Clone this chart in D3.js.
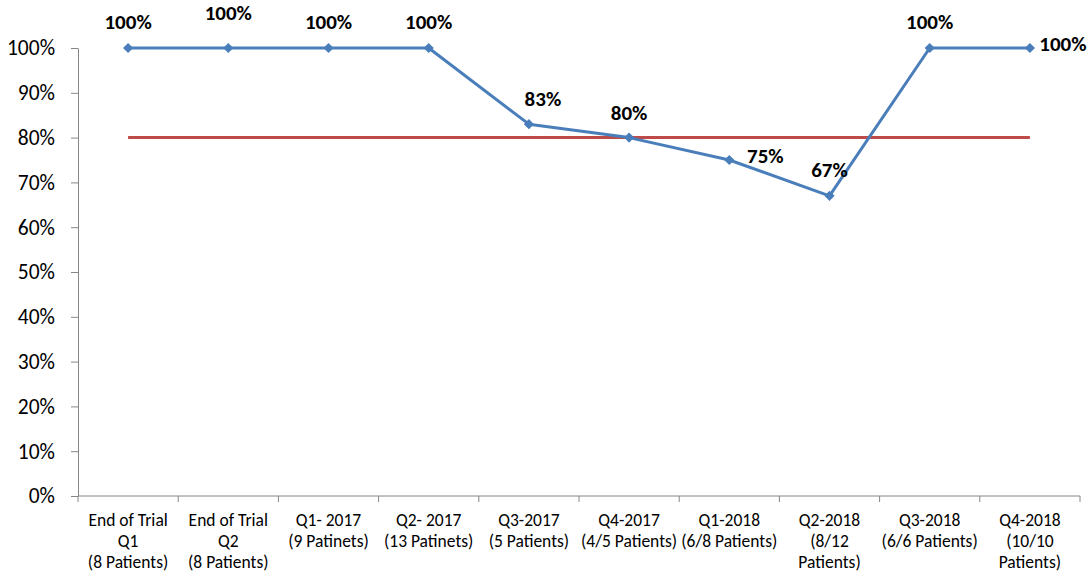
<!DOCTYPE html>
<html>
<head>
<meta charset="utf-8">
<script src="https://cdn.jsdelivr.net/npm/d3@7/dist/d3.min.js"></script>
<style>
  body { margin: 0; background: #fff; }
  text { font-family: Carlito, Lato, "Open Sans", sans-serif; }
  .axis path, .axis line { stroke: #868686; }
</style>
</head>
<body>
<svg id="chart" width="1092" height="575"></svg>
<script>
// data
const categories = ["EOT-Q1", "EOT-Q2", "Q1-2017", "Q2-2017", "Q3-2017", "Q4-2017", "Q1-2018", "Q2-2018", "Q3-2018", "Q4-2018"];
const categoryLines = [
  ["End of Trial", "Q1", "(8 Patients)"],
  ["End of Trial", "Q2", "(8 Patients)"],
  ["Q1- 2017", "(9 Patinets)"],
  ["Q2- 2017", "(13 Patinets)"],
  ["Q3-2017", "(5 Patients)"],
  ["Q4-2017", "(4/5 Patients)"],
  ["Q1-2018", "(6/8 Patients)"],
  ["Q2-2018", "(8/12", "Patients)"],
  ["Q3-2018", "(6/6 Patients)"],
  ["Q4-2018", "(10/10", "Patients)"]
];
const compliance = [100, 100, 100, 100, 83, 80, 75, 67, 100, 100];
const target = 80;
const yTicks = [0, 10, 20, 30, 40, 50, 60, 70, 80, 90, 100];

// where each data label sits relative to its point (px)
const labelOffsets = [[0, -26], [0, -35], [0, -26], [0, -26], [14, -26], [0, -25], [36, -4], [0, -26], [0, -26], [33, -4]];

const margin = {top: 48, right: 12, bottom: 79, left: 78};
const width = 1092 - margin.left - margin.right;
const height = 575 - margin.top - margin.bottom;

const svg = d3.select("#chart");
const g = svg.append("g").attr("transform", `translate(${margin.left},${margin.top})`);

const x = d3.scaleBand().domain(categories).range([0, width]).padding(0);
const y = d3.scaleLinear().domain([0, 100]).range([height, 0]);
const cx = c => x(c) + x.bandwidth() / 2;

// y axis
const yAxis = g.append("g").attr("class", "axis")
  .call(d3.axisLeft(y).tickValues(yTicks).tickFormat(d => d + "%").tickSize(7).tickPadding(16).tickSizeOuter(0));
yAxis.selectAll("text").attr("font-size", 21.5).attr("fill", "#000");

// x axis
const xAxis = g.append("g").attr("class", "axis").attr("transform", `translate(0,${height})`);
xAxis.append("line").attr("x1", 0).attr("x2", width).attr("y1", 0).attr("y2", 0);
const bounds = categories.map(c => x(c)).concat([width]);
xAxis.selectAll(".btick").data(bounds).enter().append("line")
  .attr("x1", d => d).attr("x2", d => d).attr("y1", 0).attr("y2", 6);
const labels = xAxis.selectAll(".xl").data(categories).enter().append("text")
  .attr("text-anchor", "middle").attr("font-size", 17.5).attr("fill", "#000");
labels.each(function(c, i) {
  d3.select(this).selectAll("tspan").data(categoryLines[i]).enter().append("tspan")
    .attr("x", cx(c)).attr("y", (d, j) => 30 + j * 21).text(d => d);
});

// target line
g.append("line")
  .attr("x1", cx(categories[0])).attr("x2", cx(categories[categories.length - 1]))
  .attr("y1", y(target)).attr("y2", y(target))
  .attr("stroke", "#BE4B48").attr("stroke-width", 3);

// series line
const line = d3.line().x((d, i) => cx(categories[i])).y(d => y(d));
g.append("path").datum(compliance).attr("d", line)
  .attr("fill", "none").attr("stroke", "#4A7EBB").attr("stroke-width", 3).attr("stroke-linejoin", "round");

g.selectAll(".mk").data(compliance).enter().append("path")
  .attr("d", d3.symbol(d3.symbolSquare, 52)())
  .attr("transform", (d, i) => `translate(${cx(categories[i])},${y(d)}) rotate(45)`)
  .attr("fill", "#4A7EBB");

g.selectAll(".dl").data(compliance).enter().append("text")
  .attr("x", (d, i) => cx(categories[i]) + labelOffsets[i][0])
  .attr("y", (d, i) => y(d) + labelOffsets[i][1])
  .attr("dy", "0.35em")
  .attr("text-anchor", "middle").attr("font-size", 21).attr("font-weight", "bold").attr("fill", "#000")
  .text(d => d + "%");
</script>
</body>
</html>
